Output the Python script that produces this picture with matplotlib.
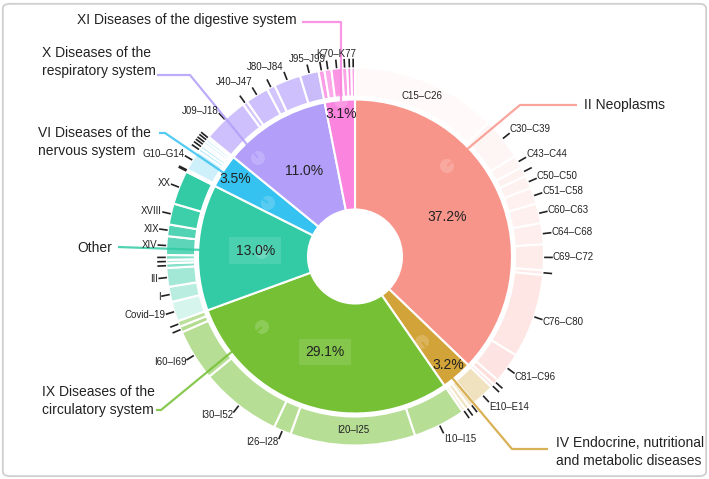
import numpy as np
import matplotlib.pyplot as plt
from matplotlib.colors import to_rgb
from matplotlib.patches import FancyBboxPatch, Circle

plt.rcParams['font.family'] = ['Liberation Sans', 'DejaVu Sans']

# inner ring: ICD chapters (share of deaths, %)
chapters = ["II Neoplasms",
            "IV Endocrine, nutritional\nand metabolic diseases",
            "IX Diseases of the\ncirculatory system",
            "Other",
            "VI Diseases of the\nnervous system",
            "X Diseases of the\nrespiratory system",
            "XI Diseases of the digestive system"]
shares = [37.2, 3.2, 29.1, 13.0, 3.5, 11.0, 3.1]
chapter_colors = ["#F8958B", "#D2A338", "#75C034", "#33CBA6", "#36C2F0", "#B39EFA", "#FA84DE"]

# outer ring: blocks inside each chapter
neo_labels = ["C15–C26", "C30–C39", "C43–C44", "", "C50–C50", "C51–C58", "C60–C63",
              "C64–C68", "C69–C72", "", "C76–C80", "C81–C96", "", ""]
neo_values = [12.5, 3.6, 1.1, 0.8, 1.1, 1.4, 1.7, 1.8, 2.2, 0.4, 7.2, 2.6, 0.5, 0.3]
neo_shades = [0.05, 0.09, 0.1, 0.12, 0.12, 0.13, 0.14, 0.15, 0.18, 0.2, 0.24, 0.26, 0.3, 0.3]

endo_labels = ["E10–E14", "", "", ""]
endo_values = [2.0, 0.5, 0.4, 0.3]
endo_shades = [0.32, 0.25, 0.3, 0.22]

circ_labels = ["I10–I15", "I20–I25", "I26–I28", "I30–I52", "I60–I69", "", ""]
circ_values = [4.5, 10.7, 1.5, 7.0, 4.4, 0.5, 0.5]
circ_shades = [0.52, 0.52, 0.52, 0.52, 0.52, 0.55, 0.5]

other_labels = ["Covid–19", "I", "III", "", "", "", "XIV", "XIX", "XVIII", "XX"]
other_values = [1.7, 1.3, 1.6, 0.4, 0.3, 0.4, 1.6, 1.0, 1.8, 2.9]
other_shades = [0.2, 0.35, 0.45, 0.6, 0.4, 0.6, 0.8, 0.85, 0.95, 1.0]

nerv_labels = ["", "", "G10–G14", "", "", "", "", "", ""]
nerv_values = [0.1, 0.1, 1.8, 0.3, 0.3, 0.2, 0.25, 0.25, 0.2]
nerv_shades = [0.3, 0.4, 0.25, 0.35, 0.3, 0.4, 0.3, 0.35, 0.3]

resp_labels = ["J09–J18", "", "J40–J47", "", "J80–J84", "J95–J99"]
resp_values = [4.0, 0.4, 2.0, 0.7, 2.3, 1.6]
resp_shades = [0.65, 0.6, 0.65, 0.6, 0.65, 0.7]

dig_labels = ["", "", "K70–K77", "", "", ""]
dig_values = [0.5, 0.6, 0.9, 0.45, 0.35, 0.3]
dig_shades = [0.8, 0.7, 0.85, 0.75, 0.9, 0.8]

sub_labels = [neo_labels, endo_labels, circ_labels, other_labels, nerv_labels, resp_labels, dig_labels]
sub_values = [neo_values, endo_values, circ_values, other_values, nerv_values, resp_values, dig_values]
sub_shades = [neo_shades, endo_shades, circ_shades, other_shades, nerv_shades, resp_shades, dig_shades]

W, H = 709, 479
cx, cy = 355, H - 256.5
r_hole, r_mid, r_out = 47, 157, 189


def tint(c, a):
    rgb = np.array(to_rgb(c))
    return tuple(1 - a * (1 - rgb))


def px(x, y):
    # image pixel -> data coords
    return x, H - y


fig = plt.figure(figsize=(W / 100, H / 100), dpi=100)
ax = fig.add_axes([0, 0, 1, 1])

inner, _ = ax.pie(shares, colors=chapter_colors, radius=r_mid, center=(cx, cy),
                  startangle=90, counterclock=False,
                  wedgeprops=dict(width=r_mid - r_hole, edgecolor="white", linewidth=1.5))

outer_vals = [v for vals in sub_values for v in vals]
outer_labs = [l for labs in sub_labels for l in labs]
outer_cols = [tint(chapter_colors[i], s) for i, sh in enumerate(sub_shades) for s in sh]
outer, _ = ax.pie(outer_vals, colors=outer_cols, radius=r_out, center=(cx, cy),
                  startangle=90, counterclock=False,
                  wedgeprops=dict(width=r_out - r_mid - 3, edgecolor="white", linewidth=1.5))

# percentage labels
for w, s in zip(inner, shares):
    t = np.deg2rad((w.theta1 + w.theta2) / 2)
    r = 100 if s > 10 else 143
    box = None
    if 12 < s < 30:
        box = dict(boxstyle="square,pad=0.45", fc="white", ec="none", alpha=0.12)
    ax.text(cx + r * np.cos(t), cy + r * np.sin(t), f"{s:.1f}%", ha="center", va="center",
            fontsize=10, color="#222222", bbox=box)

# block labels on the outer ring
for w, v, lab in zip(outer, outer_vals, outer_labs):
    t = np.deg2rad((w.theta1 + w.theta2) / 2)
    c, s = np.cos(t), np.sin(t)
    if v > 9:
        r = (r_mid + r_out) / 2 + 1
        ax.text(cx + r * c, cy + r * s, lab, ha="center", va="center", fontsize=7, color="#222222")
        continue
    ax.plot([cx + (r_out + 1) * c, cx + (r_out + 8) * c],
            [cy + (r_out + 1) * s, cy + (r_out + 8) * s], color="#222222", lw=1.2)
    if not lab:
        continue
    tx, ty = cx + (r_out + 9) * c, cy + (r_out + 9) * s
    if s > 0.8:
        ha = "right" if c < -0.3 else ("left" if c > 0.3 else "center")
        va = "bottom"
    else:
        ha = "left" if c > 0 else "right"
        va = "center"
        ty += (6 if c > 0 else 3) * s
    ax.text(tx, ty, lab, ha=ha, va=va, fontsize=7, color="#222222")

# chapter leader lines (image pixel coords)
leaders = [
    [(447, 166), (520, 105), (577, 105)],
    [(422, 342), (512, 449), (548, 449)],
    [(262, 327), (161, 410), (156, 410)],
    [(262, 252), (118, 247)],
    [(268, 203), (165, 133), (159, 133)],
    [(258, 158), (190, 75), (157, 75)],
    [(341, 101), (341, 22), (302, 22)],
]
label_pos = [(584, 105, "left"), (556, 452, "left"), (42, 401, "left"), (112, 248, "right"),
             (38, 142, "left"), (42, 62, "left"), (297, 20, "right")]

for pts, col, name, (tx, ty, ha) in zip(leaders, chapter_colors, chapters, label_pos):
    xs, ys = zip(*[px(x, y) for x, y in pts])
    ax.plot(xs, ys, color=col, lw=1.6, alpha=0.85, solid_capstyle="butt")
    ax.add_patch(Circle((xs[0], ys[0]), 7, fc="white", ec="none", alpha=0.18))
    ax.text(tx, H - ty, name, ha=ha, va="center", fontsize=10, color="#222222", linespacing=1.35)

ax.set_xlim(0, W)
ax.set_ylim(0, H)
ax.set_aspect("equal")
ax.axis("off")

fig.patches.append(FancyBboxPatch((0.004, 0.006), 0.992, 0.986,
                                  boxstyle="round,pad=0,rounding_size=0.01",
                                  transform=fig.transFigure, fc="none", ec="#cfcfcf", lw=1.3))

fig.savefig("out.png", dpi=100)
